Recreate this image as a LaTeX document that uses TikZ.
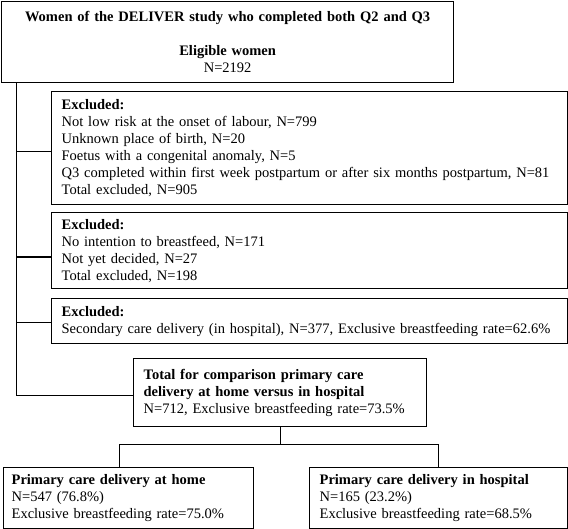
\documentclass[tikz,border=0pt]{standalone}
\usepackage{fontspec}
\setmainfont{Liberation Serif}
\usetikzlibrary{calc}
\begin{document}
\begin{tikzpicture}[x=1pt,y=-1pt,
  box/.style={draw, line width=1.3pt, anchor=north west, inner ysep=0pt, inner xsep=10pt,
    align=left, font=\fontsize{14.5}{17}\selectfont},
  conn/.style={line width=1.3pt}]
\useasboundingbox (0,0) rectangle (568,529);

\node[box, align=center, minimum width=452pt, minimum height=81pt, text width=432pt] (top) at (1,1)
  {\textbf{Women of the DELIVER study who completed both Q2 and Q3}\\[17pt]
   \textbf{Eligible women}\\N=2192};

\node[box, minimum width=516pt, minimum height=113pt, text width=496pt] (ex1) at (51,91)
  {\textbf{Excluded:}\\
   \mbox{Not low risk at the onset of labour, N=799}\\
   \mbox{Unknown place of birth, N=20}\\
   \mbox{Foetus with a congenital anomaly, N=5}\\
   \mbox{Q3 completed within first week postpartum or after six months postpartum, N=81}\\
   \mbox{Total excluded, N=905}};

\node[box, minimum width=516pt, minimum height=76pt, text width=496pt] (ex2) at (51,212)
  {\textbf{Excluded:}\\
   No intention to breastfeed, N=171\\
   Not yet decided, N=27\\
   Total excluded, N=198};

\node[box, minimum width=516pt, minimum height=45pt, text width=496pt] (ex3) at (51,298)
  {\textbf{Excluded:}\\
   \mbox{Secondary care delivery (in hospital), N=377, Exclusive breastfeeding rate=62.6\%}};

\node[box, minimum width=293pt, minimum height=68pt, text width=273pt] (total) at (133,358)
  {\textbf{Total for comparison primary care}\\
   \textbf{delivery at home versus in hospital}\\
   \mbox{N=712, Exclusive breastfeeding rate=73.5\%}};

\node[box, inner xsep=8pt, minimum width=250pt, minimum height=61pt, text width=234pt] (home) at (3,467)
  {\textbf{Primary care delivery at home}\\
   N=547 (76.8\%)\\
   \mbox{Exclusive breastfeeding rate=75.0\%}};

\node[box, minimum width=258pt, minimum height=61pt, text width=238pt] (hosp) at (309,467)
  {\textbf{Primary care delivery in hospital}\\
   N=165 (23.2\%)\\
   \mbox{Exclusive breastfeeding rate=68.5\%}};

% left trunk
\coordinate (trunk) at ($(top.south west)+(15.5,0)$);
\coordinate (e0) at ([yshift=-3pt]total.west);
\coordinate (e1) at ([yshift=-3.5pt]ex1.west);
\coordinate (e2) at ([yshift=-6.5pt]ex2.west);
\coordinate (e3) at ([yshift=-1.5pt]ex3.west);
\draw[conn] (trunk) |- (e0);
\draw[conn] (trunk |- e1) -- (e1);
\draw[conn] (trunk |- e2) -- (e2);
\draw[conn] (trunk |- e3) -- (e3);

% lower split
\coordinate (split) at ($(total.south)+(0,17)$);
\coordinate (hn) at ([xshift=-9pt]home.north);
\draw[conn] (total.south) -- (split);
\draw[conn] (hn) |- (split) -| (hosp.north);
\end{tikzpicture}
\end{document}
